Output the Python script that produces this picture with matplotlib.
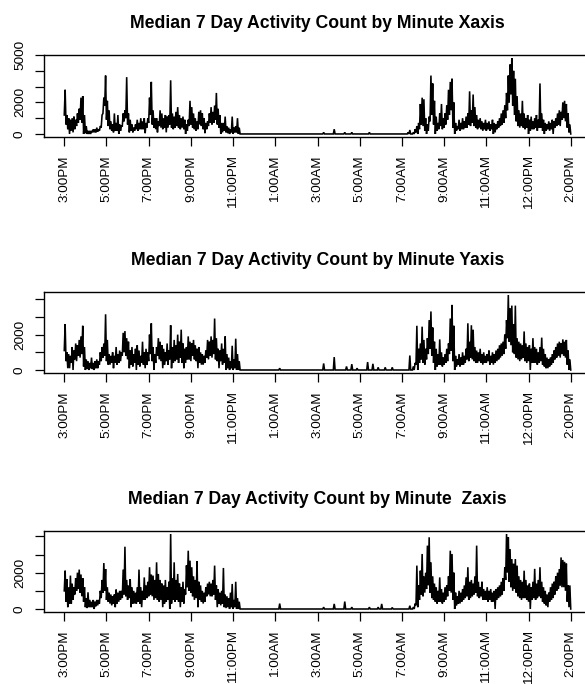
import numpy as np
import matplotlib
matplotlib.use("Agg")
import matplotlib.pyplot as plt

plt.rcParams['font.family'] = ['Liberation Sans', 'DejaVu Sans']

# ---------------- data (5-minute bins, upper / lower envelope) ----------------
tick_minutes = [0, 120, 240, 360, 480, 600, 720, 840, 960, 1080, 1200, 1320, 1440]
tick_labels = ["3:00PM", "5:00PM", "7:00PM", "9:00PM", "11:00PM", "1:00AM", "3:00AM",
               "5:00AM", "7:00AM", "9:00AM", "11:00AM", "12:00PM", "2:00PM"]
titles = ["Median 7 Day Activity Count by Minute Xaxis",
          "Median 7 Day Activity Count by Minute Yaxis",
          "Median 7 Day Activity Count by Minute  Zaxis"]

# evening: minutes 0..495 ; morning: minutes 975..1440
x_eve_hi = [2800,1200,1000,900,1000,1100,900,1300,1600,2300,2400,1200,500,200,200,200,300,300,400,300,
            500,1200,2300,3700,2100,1500,800,600,1300,700,1200,600,500,1300,1500,3600,1300,900,600,400,
            600,900,700,1000,800,1000,700,1000,2300,3300,1500,1000,1000,800,1500,1300,1000,1200,1100,1200,
            3400,1300,1100,1400,1700,1200,1000,1100,900,600,900,2100,1700,1300,1000,800,1400,1500,1300,1000,
            700,800,1300,1700,1400,1800,2600,1600,1200,700,700,1100,500,400,300,1100,400,500,1000,400]
x_eve_lo = [1200,600,300,0,200,100,300,500,700,900,700,0,50,0,0,0,100,100,100,150,
            200,400,1300,1800,900,500,300,200,100,200,200,0,200,500,800,1000,600,100,200,100,
            200,300,200,300,300,300,50,400,700,1200,600,400,300,100,500,400,300,400,100,400,
            600,400,300,400,500,400,300,400,300,0,200,500,600,400,300,200,300,600,500,300,
            50,300,500,700,600,700,900,600,400,0,100,200,100,50,0,100,0,100,100,0]
x_morn_hi = [100,250,0,100,300,500,700,1900,2300,2200,1000,600,1100,3700,3200,2100,1100,700,1300,1900,
             1000,1300,1800,2800,3300,3500,2000,700,500,900,700,1000,800,1100,1300,2700,1500,2500,1700,1200,
             900,1000,800,700,900,700,800,600,900,700,600,800,1000,1300,1500,1800,2600,3700,4400,4810,
             4000,3500,2400,1500,1300,2100,1300,1000,1200,900,1100,800,1000,1200,900,3200,1300,900,700,600,
             800,700,900,800,1000,1300,1500,1400,2000,2100,1900,1300,600,200]
x_morn_lo = [0,0,0,0,0,100,0,300,600,500,200,0,200,800,1200,600,0,200,300,500,
             300,400,600,900,1200,1500,400,0,200,300,200,300,300,400,400,600,500,700,500,400,
             300,400,300,200,300,200,300,200,300,0,100,300,400,500,600,700,1000,1500,2000,2500,
             1800,1200,800,500,400,500,400,300,400,0,200,300,300,400,200,400,400,200,0,200,
             300,200,300,0,400,500,600,500,900,1000,800,400,100,0]
x_night_min = [733, 763, 797, 816, 863]
x_night_val = [100, 300, 100, 100, 100]

y_eve_hi = [2600,1000,900,800,1300,1100,1500,1400,1700,1900,2500,1300,600,500,400,700,400,500,600,500,
            1000,1300,1500,3150,1700,900,800,1000,800,1300,900,1100,1000,2100,2200,1800,1600,1100,1300,900,
            1200,1400,1100,800,1600,1000,1200,1000,2000,2640,1300,900,1300,1800,1600,1400,1200,1000,1500,1100,
            2530,1300,1700,1400,2000,1600,2280,1500,1200,1300,1900,1600,1500,1700,1400,1200,1300,1000,900,800,
            1100,1700,1600,1900,1700,2910,1800,1200,1100,1500,1200,1900,900,700,500,1370,600,1770,900,500]
y_eve_lo = [1100,500,100,100,400,0,600,500,800,700,900,200,0,50,0,100,50,0,100,100,
            300,500,700,800,500,300,300,400,100,400,300,400,500,800,1000,800,600,100,300,200,
            400,0,300,200,400,300,100,300,500,900,500,0,400,800,600,500,100,300,500,300,
            600,100,400,500,600,400,700,400,100,400,600,600,500,800,600,500,100,400,300,300,
            400,700,600,800,700,900,600,500,100,500,300,400,0,100,0,100,0,100,0,0]
y_morn_hi = [0,820,0,200,400,2500,1200,1500,2450,1700,1200,1800,2820,3310,2400,1600,1200,900,1730,1000,
             700,900,1200,1500,2910,3680,2500,800,600,900,700,1000,800,1200,2640,1600,2530,2280,1300,1100,
             1000,1200,900,1000,800,900,1100,800,1000,900,1100,1200,1400,1500,1600,2000,2820,4240,3500,3640,
             2600,3640,1800,1600,1500,1400,2180,1500,1300,1400,1200,1800,1300,1200,1000,1300,1830,1200,900,700,
             600,700,900,1100,1300,1500,1600,1500,1730,1600,1700,1100,600,0]
y_morn_lo = [0,0,0,0,0,300,0,400,600,400,300,600,900,1200,800,400,0,200,300,300,
             200,300,400,500,900,1100,500,0,200,300,200,300,300,400,600,500,700,600,500,400,
             400,500,400,300,400,400,500,300,400,300,400,500,600,700,800,900,1200,1800,1600,1400,
             1000,900,700,600,500,600,700,500,400,500,0,400,400,400,300,400,500,300,200,100,
             100,200,300,400,600,700,800,700,900,800,700,300,0,0]
y_night_min = [612, 733, 763, 799, 816, 828, 859, 873, 890, 909, 932]
y_night_val = [100, 370, 730, 200, 330, 100, 450, 350, 150, 150, 150]

z_eve_hi = [2110,1650,1200,1840,1400,1200,1700,2000,2170,1900,1700,1200,600,920,500,400,500,400,500,500,
            1000,1600,2530,2200,1200,900,800,700,800,1070,900,1000,1000,2170,3430,1600,1300,1650,1200,1000,
            900,1200,2170,1200,1000,1740,1300,1500,2300,1900,1840,1600,2570,1930,1600,1400,1300,1600,1200,1500,
            4130,1700,2570,1600,1930,1400,1200,1500,1100,2400,3210,2660,2300,1800,1600,2630,1500,1300,1000,900,
            1200,1400,1500,1400,1600,2390,1300,1100,900,1000,2260,800,700,600,900,1380,500,1500,600,400]
z_eve_lo = [1000,400,100,300,300,500,800,1000,1100,900,700,400,100,50,100,100,100,0,150,200,
            300,600,900,1000,500,400,300,200,300,100,300,400,500,600,800,700,500,600,100,300,
            300,300,400,300,100,500,500,600,700,800,700,500,600,500,400,500,100,300,400,500,
            0,300,500,400,500,400,100,400,300,800,1200,1000,900,700,500,600,100,500,400,300,
            400,700,800,700,700,800,500,100,300,200,300,100,50,100,0,100,0,100,0,0]
z_morn_hi = [0,180,0,100,300,2390,1300,2110,3030,1800,2000,3490,3950,2570,1800,1400,1200,1000,1740,1100,
             900,1200,1300,1800,3210,3030,2000,900,700,1000,900,1100,1300,1740,2300,1500,1600,1400,1800,3490,
             1500,1200,1500,1100,1000,1200,1000,1100,900,1000,1100,1200,1300,1500,1700,2300,4130,3950,3300,2750,
             2500,2750,2390,1800,1600,1500,2110,1600,1300,1400,1200,1500,2210,1400,1600,2300,1500,1200,1000,800,
             900,1200,1400,1500,1800,2000,2200,2840,2700,2600,2500,1300,1300,0]
z_morn_lo = [0,0,0,0,0,200,100,500,800,700,900,1100,1300,900,600,500,400,300,400,400,
             300,400,500,700,1000,900,500,0,200,300,300,400,500,600,700,500,600,700,800,900,
             700,600,700,500,500,500,400,500,400,400,0,500,600,700,800,1000,1600,2000,1500,1200,
             1000,1100,900,700,600,500,600,600,500,400,0,500,600,500,600,700,600,400,300,200,
             100,400,500,600,800,1000,1100,1300,1200,1200,1000,400,100,0]
z_night_min = [612, 733, 763, 797, 816, 863, 890, 899, 932]
z_night_val = [300, 100, 280, 410, 100, 100, 100, 280, 80]

series = [
    (x_eve_hi, x_eve_lo, x_morn_hi, x_morn_lo, x_night_min, x_night_val),
    (y_eve_hi, y_eve_lo, y_morn_hi, y_morn_lo, y_night_min, y_night_val),
    (z_eve_hi, z_eve_lo, z_morn_hi, z_morn_lo, z_night_min, z_night_val),
]
ytick_sets = [([0, 1000, 2000, 3000, 4000, 5000], ["0", "", "2000", "", "", "5000"]),
              ([0, 1000, 2000, 3000, 4000], ["0", "", "2000", "", ""]),
              ([0, 1000, 2000, 3000, 4000], ["0", "", "2000", "", ""])]

# ---------------- figure ----------------
W, H = 585, 684
fig = plt.figure(figsize=(W / 100, H / 100), dpi=100)
# axes boxes in pixels: (left, top, right, bottom)
boxes = [(44, 55, 591, 137), (44, 292, 591, 373), (44, 531, 591, 612)]

for (eh, el, mh, ml, nm, nv), box, title, (yt, yl) in zip(series, boxes, titles, ytick_sets):
    n_bins = 1440 // 5 + 1
    hi = np.zeros(n_bins)
    lo = np.zeros(n_bins)
    hi[:len(eh)] = eh
    lo[:len(el)] = el
    start = 975 // 5
    hi[start:start + len(mh)] = mh
    lo[start:start + len(ml)] = ml
    for m, v in zip(nm, nv):
        hi[int(round(m / 5))] = v
    minutes = np.arange(n_bins) * 5.0
    t = np.empty(2 * n_bins)
    v = np.empty(2 * n_bins)
    t[0::2] = minutes
    t[1::2] = minutes + 2.5
    v[0::2] = lo
    v[1::2] = hi
    keep = t <= 1440
    t, v = t[keep], v[keep]

    l, tp, r, b = box
    ax = fig.add_axes([l / W, 1 - b / H, (r - l) / W, (b - tp) / H])
    ax.plot(t, v, color='black', lw=1.15, solid_joinstyle='miter')
    ymax = v.max()
    ax.set_xlim(-0.04 * 1440, 1440 * 1.04)
    ax.set_ylim(-0.04 * ymax, ymax * 1.04)
    ax.set_xticks(tick_minutes)
    ax.set_xticklabels(tick_labels, rotation=90, fontsize=9.7)
    ax.set_yticks(yt)
    ax.set_yticklabels(yl, fontsize=9.7)
    for lab in ax.get_yticklabels():
        lab.set_rotation(90)
        lab.set_va('center')
    ax.tick_params(axis='both', direction='out', length=6.5, width=0.9, pad=6.5, color='black')
    for s in ax.spines.values():
        s.set_linewidth(1.0)
        s.set_color('black')
    ax.set_title(title, fontsize=12.7, fontweight='bold', pad=19.5)

fig.savefig("out.png", dpi=100)
